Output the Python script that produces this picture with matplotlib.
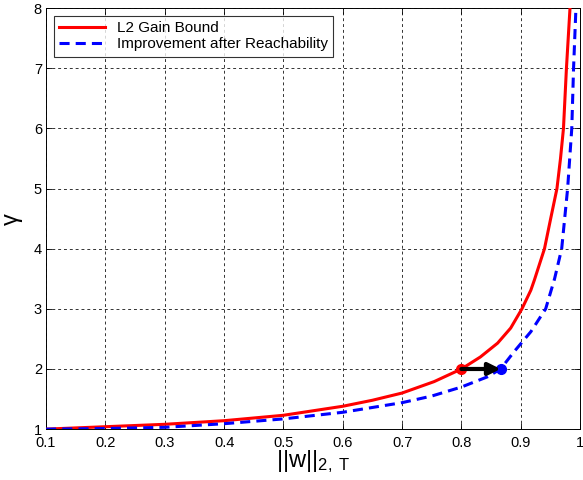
import matplotlib
matplotlib.use("Agg")
import matplotlib.pyplot as plt

plt.rcParams['font.family'] = ['Liberation Sans', 'DejaVu Sans']
plt.rcParams['mathtext.fontset'] = 'custom'
plt.rcParams['mathtext.rm'] = 'Liberation Sans'
plt.rcParams['mathtext.it'] = 'Liberation Sans'

# Data
red_x = [0.10, 0.20, 0.30, 0.40, 0.50, 0.60, 0.65, 0.70, 0.754, 0.80, 0.832, 0.861,
         0.883, 0.902, 0.917, 0.923, 0.940, 0.950, 0.961, 0.967, 0.972, 0.977, 0.983]
red_y = [1.00, 1.04, 1.08, 1.14, 1.23, 1.38, 1.48, 1.60, 1.79, 2.00, 2.20, 2.43,
         2.68, 3.00, 3.31, 3.48, 4.00, 4.48, 5.00, 5.50, 6.00, 7.00, 8.00]

blue_x = [0.10, 0.20, 0.30, 0.40, 0.50, 0.60, 0.70, 0.75, 0.80, 0.844, 0.866, 0.889,
          0.917, 0.942, 0.957, 0.969, 0.979, 0.986, 0.989, 0.993]
blue_y = [1.00, 1.01, 1.03, 1.09, 1.17, 1.28, 1.44, 1.55, 1.70, 1.87, 2.00, 2.29,
          2.62, 3.00, 3.50, 4.00, 5.00, 6.00, 7.00, 8.00]

start_pt = (0.80, 2.0)
end_pt = (0.866, 2.0)

xticks = [0.1, 0.2, 0.3, 0.4, 0.5, 0.6, 0.7, 0.8, 0.9, 1.0]
xticklabels = ['0.1', '0.2', '0.3', '0.4', '0.5', '0.6', '0.7', '0.8', '0.9', '1']
yticks = [1, 2, 3, 4, 5, 6, 7, 8]

fig = plt.figure(figsize=(5.83, 4.80), dpi=100)
ax = fig.add_axes([0.079, 0.106, 0.916, 0.877])

ax.plot(red_x, red_y, color='#ff0000', lw=2.2, label='L2 Gain Bound', zorder=3,
        solid_joinstyle='round')
ax.plot(blue_x, blue_y, color='#0000ff', lw=2.2, dashes=(3.3, 2.0),
        label='Improvement after Reachability', zorder=3)
ax.plot([start_pt[0]], [start_pt[1]], 'o', color='#ff0000', ms=7, zorder=4)
ax.plot([end_pt[0]], [end_pt[1]], 'o', color='#0000ff', ms=7, zorder=4)
ax.annotate('', xy=end_pt, xytext=start_pt,
            arrowprops=dict(arrowstyle='-|>', color='k', lw=3, mutation_scale=18,
                            shrinkA=0, shrinkB=0), zorder=5)

ax.set_xlim(0.1, 1.0)
ax.set_ylim(1, 8)
ax.set_xticks(xticks)
ax.set_xticklabels(xticklabels)
ax.set_yticks(yticks)
ax.tick_params(direction='in', length=4, width=0.6, top=True, right=True,
               labelsize=10.5, pad=3)
ax.tick_params(axis='x', pad=5)
ax.grid(True, color='#333333', linestyle=(0, (3, 3)), lw=0.7)
for s in ax.spines.values():
    s.set_linewidth(0.7)

ax.set_xlabel(r'$\mathregular{||w||_{2,\ T}}$', fontsize=17, labelpad=-1)
ax.set_ylabel(r'$\gamma$', fontsize=17, labelpad=6, family='DejaVu Sans')

leg = ax.legend(loc='upper left', fontsize=11, frameon=True, fancybox=False,
                edgecolor='k', handlelength=3.0, borderaxespad=0.5,
                borderpad=0.35, labelspacing=0.15)
leg.get_frame().set_linewidth(0.8)

fig.savefig('out.png', dpi=100)
